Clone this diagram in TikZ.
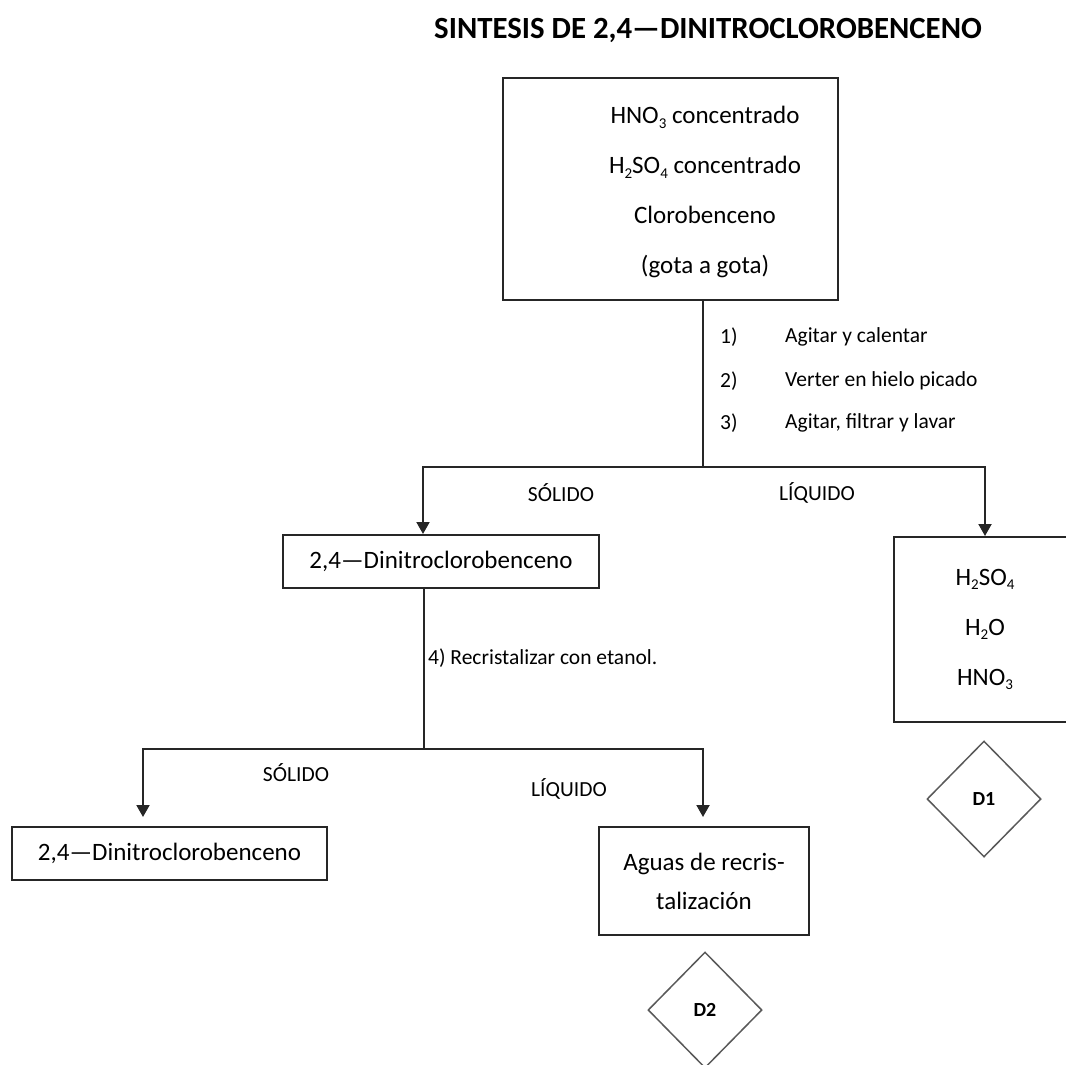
\documentclass[tikz,border=0pt]{standalone}
\usepackage{fontspec}
\setmainfont{Carlito}
\usetikzlibrary{arrows.meta,shapes.geometric,positioning}
\newcommand\grande{\fontsize{25}{50}\selectfont}
\newcommand\chica{\fontsize{21.5}{26}\selectfont}
\newcommand\titulo{\fontsize{30.8}{36}\selectfont\bfseries}
\newcommand\sub[1]{\raisebox{-0.4ex}{\fontsize{15}{15}\selectfont #1}}
\tikzset{
	>=Triangle,
	caja/.style={draw=black!85, line width=2pt, inner sep=0pt},
	linea/.style={draw=black!85, line width=2pt},
	flecha/.style={-{Triangle[width=13pt,length=12pt]}, draw=black!85, line width=2pt},
	rombo/.style={diamond, draw=black!65, line width=1.5pt, minimum width=114pt,
		minimum height=116pt, inner sep=0pt, font=\bfseries\fontsize{20}{20}\selectfont},
	etiqueta/.style={font=\chica, inner sep=0pt}
}
\begin{document}
\begin{tikzpicture}[x=1pt,y=-1pt]
	\useasboundingbox (0,0) rectangle (1066,1065);
	\clip (0,0) rectangle (1066,1065);
	
	% title
	\node[font=\titulo] (titulo) at (708,30) {SINTESIS DE 2,4—DINITROCLOROBENCENO};
	
	% reactivos
	\node[caja, minimum width=335pt, minimum height=222pt] (mezcla) at (670.5,189) {};
	\node[font=\grande, align=center, inner sep=0pt] (reactivos) at (705,192)
	{HNO\sub{3} concentrado\\H\sub{2}SO\sub{4} concentrado\\Clorobenceno\\(gota a gota)};
	
	% pasos 1-3
	\node[etiqueta, anchor=west] (n1) at (720,337) {1)};
	\node[etiqueta, anchor=west] (p1) at (785,337) {Agitar y calentar};
	\node[etiqueta, anchor=west] (n2) at (720,381) {2)};
	\node[etiqueta, anchor=west] (p2) at (785,381) {Verter en hielo picado};
	\node[etiqueta, anchor=west] (n3) at (720,423) {3)};
	\node[etiqueta, anchor=west] (p3) at (785,423) {Agitar, filtrar y lavar};
	
	% primera separacion
	\node[caja, minimum width=316pt, minimum height=53pt, font=\grande] (solido1) at (441,561.5)
	{2,4—Dinitroclorobenceno};
	\node[caja, minimum width=182pt, minimum height=185pt, font=\grande, align=center] (liquido1)
	at (985,629.5) {H\sub{2}SO\sub{4}\\H\sub{2}O\\HNO\sub{3}};
	\node[rombo] (d1) at (984,799) {D1};
	
	\coordinate (r1) at (703,467);
	\coordinate (izq1) at (423,467);
	\coordinate (der1) at (985,467);
	\draw[linea] (mezcla.south -| r1) -- (r1);
	\draw[flecha] (r1) -- (izq1) -- (izq1 |- solido1.north);
	\draw[flecha] (r1) -- (der1) -- (liquido1.north);
	\node[etiqueta] (sol1) at (561,493) {SÓLIDO};
	\node[etiqueta] (liq1) at (817,493) {LÍQUIDO};
	
	% recristalizacion
	\node[etiqueta, anchor=west] (paso4) at (428,658) {4) Recristalizar con etanol.};
	\node[caja, minimum width=315pt, minimum height=53pt, font=\grande] (producto) at (169.5,853.5)
	{2,4—Dinitroclorobenceno};
	\node[caja, minimum width=210pt, minimum height=108pt, align=center,
	font=\fontsize{25}{39}\selectfont] (aguas) at (704,881) {Aguas de recris-\\talización};
	\node[rombo] (d2) at (705,1010) {D2};
	
	\coordinate (r2) at (424,749);
	\coordinate (izq2) at (143,749);
	\coordinate (der2) at (703,749);
	\draw[linea] (solido1.south -| r2) -- (r2);
	\draw[flecha, shorten >=9pt] (r2) -- (izq2) -- (izq2 |- producto.north);
	\draw[flecha, shorten >=9pt] (r2) -- (der2) -- (der2 |- aguas.north);
	\node[etiqueta] (sol2) at (296,773) {SÓLIDO};
	\node[etiqueta] (liq2) at (569,789) {LÍQUIDO};
	
\end{tikzpicture}
\end{document}
